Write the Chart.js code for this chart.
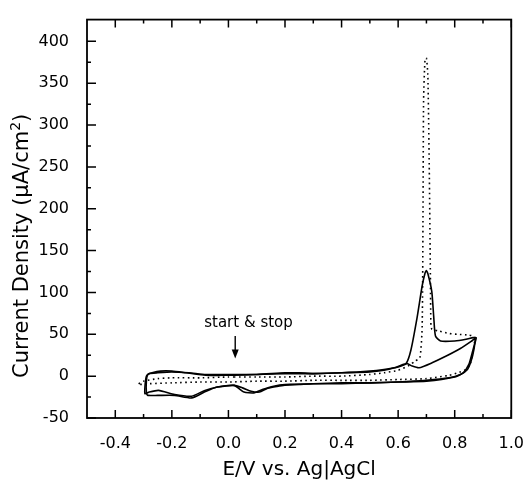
<!DOCTYPE html>
<html>
<head>
<meta charset="utf-8">
<script src="https://cdn.jsdelivr.net/npm/chart.js@4.4.1/dist/chart.umd.min.js"></script>
<style>
  html, body { margin: 0; padding: 0; background: #fff; }
  #wrap { width: 532px; height: 482px; }
</style>
</head>
<body>
<div id="wrap"><canvas id="cvChart" width="532" height="482"></canvas></div>
<script>
const FONT = "'DejaVu Sans', sans-serif";

// axis ticks
const xMajorTicks = [-0.4, -0.2, 0.0, 0.2, 0.4, 0.6, 0.8, 1.0];
const xMinorTicks = [-0.3, -0.1, 0.1, 0.3, 0.5, 0.7, 0.9];
const yMajorTicks = [-50, 0, 50, 100, 150, 200, 250, 300, 350, 400];
const yMinorTicks = [-25, 25, 75, 125, 175, 225, 275, 325, 375];

const xTitle = "E/V vs. Ag|AgCl";
const yTitle = "Current Density (\u03BCA/cm";
const yTitleSup = "2";
const yTitleEnd = ")";

// "start & stop" marker
const markText = "start & stop";
const markTextAt = [0.071, 63];
const markArrowE = 0.024;
const markArrowTop = 48;
const markArrowTip = 21;

// cycle with the oxidation peak (solid)
const cycleAE = [0.02, 0.1, 0.2, 0.3, 0.4, 0.5, 0.55, 0.6, 0.628, 0.645, 0.667, 0.685, 0.695, 0.700, 0.707, 0.719, 0.726, 0.732, 0.75, 0.8, 0.84, 0.865, 0.876,
  0.87, 0.862, 0.85, 0.83, 0.8, 0.7, 0.6, 0.5, 0.4, 0.3, 0.2, 0.16, 0.12, 0.09, 0.055, 0.02, -0.04, -0.085, -0.13, -0.19, -0.25, -0.285, -0.29,
  -0.29, -0.285, -0.27, -0.24, -0.2, -0.15, -0.08, -0.02, 0.02];
const cycleAI = [1, 2, 3, 3, 4, 6, 8, 11, 15, 31, 70, 108, 123, 126, 120, 101, 70, 48, 42, 42, 44, 46, 46,
  38, 28, 14, 4, -1, -6, -7, -8, -9, -9, -10, -12, -16, -20, -19, -11, -13, -19, -26, -23, -23, -23, -20,
  -5, 2, 4, 6, 6, 4, 1, 1, 1];

// second cycle without the peak (solid)
const cycleBE = [0.02, 0.1, 0.2, 0.25, 0.3, 0.4, 0.5, 0.55, 0.587, 0.61, 0.632, 0.65, 0.674, 0.72, 0.77, 0.82, 0.86, 0.872,
  0.868, 0.858, 0.845, 0.82, 0.78, 0.7, 0.6, 0.5, 0.4, 0.3, 0.25, 0.194, 0.16, 0.135, 0.11, 0.08, 0.05, 0.02, -0.038, -0.083, -0.13, -0.19, -0.247, -0.28, -0.295,
  -0.295, -0.29, -0.28, -0.25, -0.2, -0.14, -0.08, 0.0, 0.02];
const cycleBI = [2, 2, 4, 4, 3, 4, 5, 7, 10, 13, 15, 12, 10, 16, 24, 33, 42, 45,
  32, 18, 8, 2, -2, -5, -7, -8, -8, -9, -10, -11, -13, -15, -19, -18, -14, -11, -13, -17, -24, -22, -17, -19, -21,
  -12, 0, 3, 4, 5, 4, 2, 2, 2];

// cycle with the sharp spike (dotted)
const cycleCE = [0.02, 0.1, 0.2, 0.3, 0.4, 0.5, 0.55, 0.6, 0.64, 0.66, 0.677, 0.685, 0.688, 0.69, 0.695, 0.70, 0.705, 0.71, 0.714, 0.716, 0.72, 0.743, 0.78, 0.81, 0.85, 0.87,
  0.866, 0.855, 0.84, 0.81, 0.78, 0.7, 0.6, 0.5, 0.4, 0.3, 0.2, 0.1, 0.0, -0.1, -0.2, -0.28, -0.32,
  -0.3, -0.25, -0.2, -0.1, 0.0, 0.02];
const cycleCI = [-1, -1, -1, 0, 0, 2, 4, 7, 13, 18, 22, 60, 200, 330, 378, 380, 360, 250, 120, 60, 56, 54, 51, 50, 49, 47,
  30, 15, 8, 4, 1, -3, -4, -5, -5, -5, -6, -6, -7, -7, -8, -9, -10,
  -6, -3, -2, -2, -1, -1];

function toPoints(es, is) {
  return es.map((e, i) => ({ x: e, y: is[i] }));
}

// frame, inward ticks, y title and the marker
const decorations = {
  id: "decorations",
  afterDraw(chart) {
    const { ctx, chartArea: a, scales: { x, y } } = chart;
    ctx.save();
    ctx.strokeStyle = "#000";
    ctx.lineWidth = 1.8;
    ctx.strokeRect(a.left, a.top, a.right - a.left, a.bottom - a.top);

    ctx.lineWidth = 1.5;
    ctx.beginPath();
    const xTick = (v, len) => {
      const px = x.getPixelForValue(v);
      ctx.moveTo(px, a.bottom); ctx.lineTo(px, a.bottom - len);
      ctx.moveTo(px, a.top); ctx.lineTo(px, a.top + len);
    };
    const yTick = (v, len) => {
      const py = y.getPixelForValue(v);
      ctx.moveTo(a.left, py); ctx.lineTo(a.left + len, py);
    };
    xMajorTicks.forEach(v => xTick(v, 8));
    xMinorTicks.forEach(v => xTick(v, 4));
    yMajorTicks.forEach(v => yTick(v, 9));
    yMinorTicks.forEach(v => yTick(v, 4));
    ctx.stroke();

    // y axis title with superscript
    ctx.fillStyle = "#000";
    ctx.translate(23, (a.top + a.bottom) / 2 + 27);
    ctx.rotate(-Math.PI / 2);
    ctx.textBaseline = "middle";
    ctx.font = "21px " + FONT;
    const w1 = ctx.measureText(yTitle).width;
    ctx.font = "14px " + FONT;
    const w2 = ctx.measureText(yTitleSup).width;
    ctx.font = "21px " + FONT;
    const w3 = ctx.measureText(yTitleEnd).width;
    let sx = -(w1 + w2 + w3) / 2;
    ctx.textAlign = "left";
    ctx.fillText(yTitle, sx, 0);
    ctx.font = "14px " + FONT;
    ctx.fillText(yTitleSup, sx + w1, -7);
    ctx.font = "21px " + FONT;
    ctx.fillText(yTitleEnd, sx + w1 + w2, 0);
    ctx.setTransform(1, 0, 0, 1, 0, 0);

    // start & stop marker
    ctx.font = "15px " + FONT;
    ctx.textAlign = "center";
    ctx.textBaseline = "middle";
    ctx.fillText(markText, x.getPixelForValue(markTextAt[0]), y.getPixelForValue(markTextAt[1]));
    const ax = x.getPixelForValue(markArrowE);
    const top = y.getPixelForValue(markArrowTop);
    const tip = y.getPixelForValue(markArrowTip);
    ctx.lineWidth = 1.4;
    ctx.beginPath();
    ctx.moveTo(ax, top); ctx.lineTo(ax, tip - 6);
    ctx.stroke();
    ctx.beginPath();
    ctx.moveTo(ax - 3.5, tip - 9); ctx.lineTo(ax + 3.5, tip - 9); ctx.lineTo(ax, tip);
    ctx.closePath();
    ctx.fill();
    ctx.restore();
  }
};

const lineStyle = { borderColor: "#000", borderWidth: 1.6, pointRadius: 0, showLine: true, fill: false, tension: 0.2 };

new Chart(document.getElementById("cvChart"), {
  type: "scatter",
  data: {
    datasets: [
      { ...lineStyle, data: toPoints(cycleAE, cycleAI) },
      { ...lineStyle, data: toPoints(cycleBE, cycleBI) },
      { ...lineStyle, borderWidth: 1.6, borderDash: [1.6, 3.4], data: toPoints(cycleCE, cycleCI) }
    ]
  },
  options: {
    responsive: false,
    animation: false,
    layout: { padding: { left: 0, right: 13, top: 15, bottom: 0 } },
    plugins: { legend: { display: false }, tooltip: { enabled: false } },
    scales: {
      x: {
        type: "linear",
        min: -0.5,
        max: 1.0,
        afterBuildTicks: s => { s.ticks = xMajorTicks.map(v => ({ value: v })); },
        afterFit: s => { s.height = 64; },
        grid: { display: false },
        border: { display: false },
        ticks: {
          color: "#000",
          padding: 8,
          maxRotation: 0,
          font: { family: FONT, size: 16 },
          callback: v => v.toFixed(1)
        },
        title: {
          display: true,
          text: xTitle,
          color: "#000",
          font: { family: FONT, size: 20 },
          padding: { top: 0, bottom: 0 }
        }
      },
      y: {
        type: "linear",
        min: -50,
        max: 426,
        afterBuildTicks: s => { s.ticks = yMajorTicks.map(v => ({ value: v })); },
        afterFit: s => { s.width = 87; },
        grid: { display: false },
        border: { display: false },
        ticks: {
          color: "#000",
          padding: 10,
          font: { family: FONT, size: 16 },
          callback: v => String(v)
        }
      }
    }
  },
  plugins: [decorations]
});
</script>
</body>
</html>
